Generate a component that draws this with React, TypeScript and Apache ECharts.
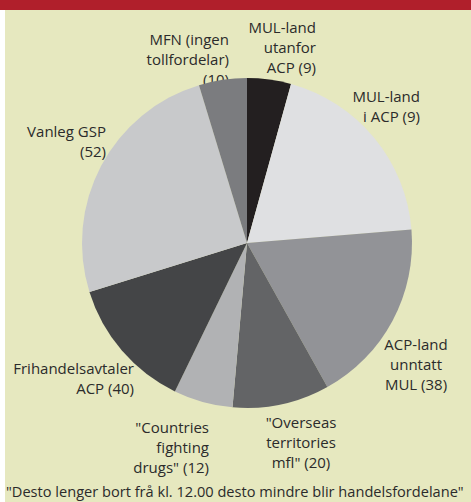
import React, { useEffect, useRef } from "react";
import * as echarts from "echarts";

// Categories (clockwise from 12 o'clock)
const categories = [
  "MUL-land\nutanfor\nACP",
  "MUL-land\ni ACP",
  "ACP-land\nunntatt\nMUL",
  "\"Overseas\nterritories\nmfl\"",
  "\"Countries\nfighting\ndrugs\"",
  "Frihandelsavtaler\nACP",
  "Vanleg GSP",
  "MFN (ingen\ntollfordelar)",
];
// Number of countries (shown in labels)
const countryCounts = [9, 9, 38, 20, 12, 40, 52, 10];
// Slice share (%)
const sliceShares = [4.3, 19.4, 18.2, 9.5, 5.8, 13.0, 25.1, 4.7];
const sliceColors = ["#231f20", "#dfe0e2", "#929397", "#636466", "#b1b2b4", "#444547", "#c8c9cb", "#7b7c7f"];

const footnote = "\"Desto lenger bort frå kl. 12.00 desto mindre blir handelsfordelane\"";

// label layout (anchor x, y-centre of first line, alignment)
const labelPos: [number, number, string][] = [
  [316, 27, "right"],
  [420, 96, "right"],
  [416, 344, "center"],
  [301, 422, "center"],
  [209, 427, "right"],
  [134, 368, "right"],
  [106, 131, "right"],
  [229, 39, "right"],
];

function labelText(i: number) {
  const name = categories[i];
  const c = `(${countryCounts[i]})`;
  if (i === 6 || i === 7) return name + "\n" + c;
  return name + ` ${c}`;
}

export default function App() {
  const ref = useRef<HTMLDivElement>(null);
  useEffect(() => {
    document.body.style.margin = "0";
    const chart = echarts.init(ref.current!, undefined, { renderer: "svg" });
    const font = "'Open Sans', 'Noto Sans', sans-serif";
    const texts = labelPos.map((p, i) => ({
      type: "text",
      z: 0,
      x: p[0],
      y: p[1] - 10,
      style: {
        text: labelText(i),
        fill: "#2b2b2b",
        font: `15px ${font}`,
        textAlign: p[2],
        textVerticalAlign: "top",
        lineHeight: 20,
      },
    }));
    chart.setOption({
      animation: false,
      graphic: [
        { type: "rect", z: -10, shape: { x: 0, y: 0, width: 471, height: 10 }, style: { fill: "#b01f2b" } },
        { type: "rect", z: -10, shape: { x: 5, y: 10, width: 466, height: 492 }, style: { fill: "#e6e8bf" } },
        ...texts,
        {
          type: "text",
          z: 0,
          x: 6,
          y: 491,
          style: { text: footnote, fill: "#2b2b2b", font: `14.6px ${font}`, textVerticalAlign: "middle" },
        },
      ],
      series: [
        {
          type: "pie",
          z: 5,
          center: [247, 243],
          radius: [0, 165],
          startAngle: 90,
          clockwise: true,
          label: { show: false },
          labelLine: { show: false },
          itemStyle: { borderWidth: 0 },
          emphasis: { disabled: true },
          data: sliceShares.map((v, i) => ({
            value: v,
            name: categories[i],
            itemStyle: { color: sliceColors[i] },
          })),
        },
      ],
    });
    return () => chart.dispose();
  }, []);
  return <div ref={ref} style={{ width: 471, height: 502 }} />;
}
